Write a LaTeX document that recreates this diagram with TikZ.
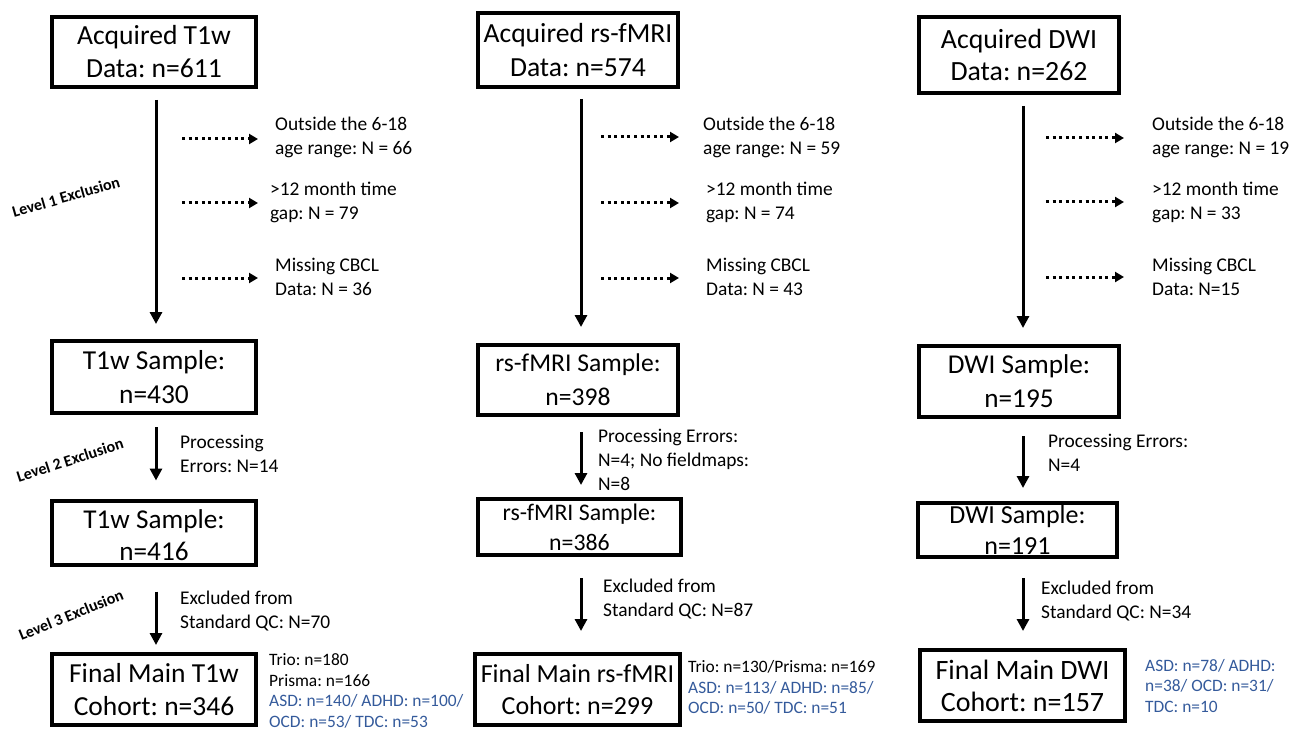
\documentclass[tikz,border=0pt]{standalone}
\usepackage{fontspec}
\setmainfont{Carlito}
\usetikzlibrary{arrows.meta}
\frenchspacing
\definecolor{noteblue}{RGB}{52,90,155}
\newcommand\fs[2]{\fontsize{#1}{#2}\selectfont}
\newcommand\lowered[2]{\raisebox{#1}[\height][\depth]{\begin{tabular}{@{}c@{}}#2\end{tabular}}}
\tikzset{
  box/.style={draw=black, line width=4pt, inner sep=0pt, align=center},
  side/.style={anchor=west, align=left, inner sep=0pt, font=\fs{19.4}{24}},
  small/.style={anchor=west, align=left, inner sep=0pt, font=\fs{17.4}{20.5}},
  levellabel/.style={inner sep=0pt, font=\bfseries\fs{16}{17}},
  mainarrow/.style={line width=3pt, -{Triangle[width=12pt,length=12pt]}},
  dotarrow/.style={line width=3pt, dash pattern=on 3pt off 3.6pt, -{Triangle[width=10pt,length=9pt,sep=0pt]}}
}
\begin{document}
\begin{tikzpicture}[x=1pt,y=-1pt]
\useasboundingbox (0,0) rectangle (1298,730);
\coordinate (x1) at (156,0);
\coordinate (x2) at (581,0);
\coordinate (x3) at (1023,0);
% ---------------- column 1 ----------------
\node[box, minimum width=204pt, minimum height=70pt, font=\fs{27.6}{33}] (A1) at (154,52) {Acquired T1w\\Data: n=611};
\node[box, minimum width=204pt, minimum height=72pt, font=\fs{27.4}{34}] (B1) at (154,377) {T1w Sample:\\n=430};
\node[box, minimum width=204pt, minimum height=55pt, font=\fs{27.2}{32}] (C1) at (154,532.5) {\lowered{-6pt}{T1w Sample:\\n=416}};
\node[box, minimum width=204pt, minimum height=71pt, font=\fs{27.5}{33}] (D1) at (154,689.5) {Final Main T1w\\Cohort: n=346};
\draw[mainarrow] ([yshift=-11pt]A1.south -| x1) -- ([yshift=15pt]B1.north -| x1);
\draw[mainarrow] ([yshift=-12pt]B1.south -| x1) -- ([yshift=18pt]C1.north -| x1);
\draw[mainarrow] ([yshift=-25pt]C1.south -| x1) -- ([yshift=7pt]D1.north -| x1);
\node[side] (t11) at (275,137) {Outside the 6-18\\age range: N = 66};
\node[side] (t12) at (270,202) {>12 month time\\gap: N = 79};
\node[side] (t13) at (275,277) {Missing CBCL\\Data: N = 36};
\coordinate (s11) at (182,139); \coordinate (e11) at (258,139);
\coordinate (s12) at (182,203); \coordinate (e12) at (258,203);
\coordinate (s13) at (182,278); \coordinate (e13) at (258,278);
\draw[dotarrow] (s11) -- (e11);
\draw[dotarrow] (s12) -- (e12);
\draw[dotarrow] (s13) -- (e13);
\node[side] (p1) at (180,453.5) {Processing\\Errors: N=14};
\node[side] (q1) at (180,611) {Excluded from\\Standard QC: N=70};
\node[small] (n1) at (269,691) {Trio: n=180\\Prisma: n=166\\\textcolor{noteblue}{ASD: n=140/ ADHD: n=100/}\\\textcolor{noteblue}{OCD: n=53/ TDC: n=53}};
\node[levellabel, rotate=16] (L1) at (66,197) {Level 1 Exclusion};
\node[levellabel, rotate=18] (L2) at (70,460) {Level 2 Exclusion};
\node[levellabel, rotate=22] (L3) at (71,615) {Level 3 Exclusion};
% ---------------- column 2 ----------------
\node[box, minimum width=200pt, minimum height=74pt, font=\fs{27.6}{34}] (A2) at (578,50) {Acquired rs-fMRI\\Data: n=574};
\node[box, minimum width=200pt, minimum height=70pt, font=\fs{25.6}{34}] (B2) at (578,380) {\lowered{-2pt}{rs-fMRI Sample:\\n=398}};
\node[box, minimum width=203pt, minimum height=56pt, font=\fs{23.8}{30}] (C2) at (579.5,527) {rs-fMRI Sample:\\n=386};
\node[box, minimum width=205pt, minimum height=71pt, font=\fs{26}{32}] (D2) at (577.5,689.5) {Final Main rs-fMRI\\Cohort: n=299};
\draw[mainarrow] ([yshift=-10pt]A2.south -| x2) -- ([yshift=16pt]B2.north -| x2);
\draw[mainarrow] ([yshift=-15pt]B2.south -| x2) -- ([yshift=12pt]C2.north -| x2);
\draw[mainarrow] ([yshift=-21pt]C2.south -| x2) -- ([yshift=21pt]D2.north -| x2);
\node[side] (t21) at (703,137) {Outside the 6-18\\age range: N = 59};
\node[side] (t22) at (706,202) {>12 month time\\gap: N = 74};
\node[side] (t23) at (706,277) {Missing CBCL\\Data: N = 43};
\coordinate (s21) at (601,137); \coordinate (e21) at (679,137);
\coordinate (s22) at (601,203); \coordinate (e22) at (679,203);
\coordinate (s23) at (601,278); \coordinate (e23) at (679,278);
\draw[dotarrow] (s21) -- (e21);
\draw[dotarrow] (s22) -- (e22);
\draw[dotarrow] (s23) -- (e23);
\node[side] (p2) at (598,460) {Processing Errors:\\N=4; No fieldmaps:\\N=8};
\node[side] (q2) at (603,599) {Excluded from\\Standard QC: N=87};
\node[small] (n2) at (688,687.5) {Trio: n=130/Prisma: n=169\\\textcolor{noteblue}{ASD: n=113/ ADHD: n=85/}\\\textcolor{noteblue}{OCD: n=50/ TDC: n=51}};
% ---------------- column 3 ----------------
\node[box, minimum width=200pt, minimum height=76pt, font=\fs{27.8}{32}] (A3) at (1019,55) {Acquired DWI\\Data: n=262};
\node[box, minimum width=200pt, minimum height=71pt, font=\fs{27.2}{34}] (B3) at (1019,381.5) {\lowered{-2pt}{DWI Sample:\\n=195}};
\node[box, minimum width=199pt, minimum height=54pt, font=\fs{26}{31}] (C3) at (1017.5,530) {DWI Sample:\\n=191};
\node[box, minimum width=205pt, minimum height=71pt, font=\fs{28}{32}] (D3) at (1022.5,685.5) {Final Main DWI\\Cohort: n=157};
\draw[mainarrow] ([yshift=-11pt]A3.south -| x3) -- ([yshift=16pt]B3.north -| x3);
\draw[mainarrow] ([yshift=-17pt]B3.south -| x3) -- ([yshift=13pt]C3.north -| x3);
\draw[mainarrow] ([yshift=-19pt]C3.south -| x3) -- ([yshift=17pt]D3.north -| x3);
\node[side] (t31) at (1152,137) {Outside the 6-18\\age range: N = 19};
\node[side] (t32) at (1152,202) {>12 month time\\gap: N = 33};
\node[side] (t33) at (1152,277) {Missing CBCL\\Data: N=15};
\coordinate (s31) at (1046,138); \coordinate (e31) at (1124,138);
\coordinate (s32) at (1046,202); \coordinate (e32) at (1124,202);
\coordinate (s33) at (1046,277); \coordinate (e33) at (1124,277);
\draw[dotarrow] (s31) -- (e31);
\draw[dotarrow] (s32) -- (e32);
\draw[dotarrow] (s33) -- (e33);
\node[side] (p3) at (1048,452.5) {Processing Errors:\\N=4};
\node[side] (q3) at (1041,601) {Excluded from\\Standard QC: N=34};
\node[small] (n3) at (1145,686) {\textcolor{noteblue}{ASD: n=78/ ADHD:}\\\textcolor{noteblue}{n=38/ OCD: n=31/}\\\textcolor{noteblue}{TDC: n=10}};
\end{tikzpicture}
\end{document}
